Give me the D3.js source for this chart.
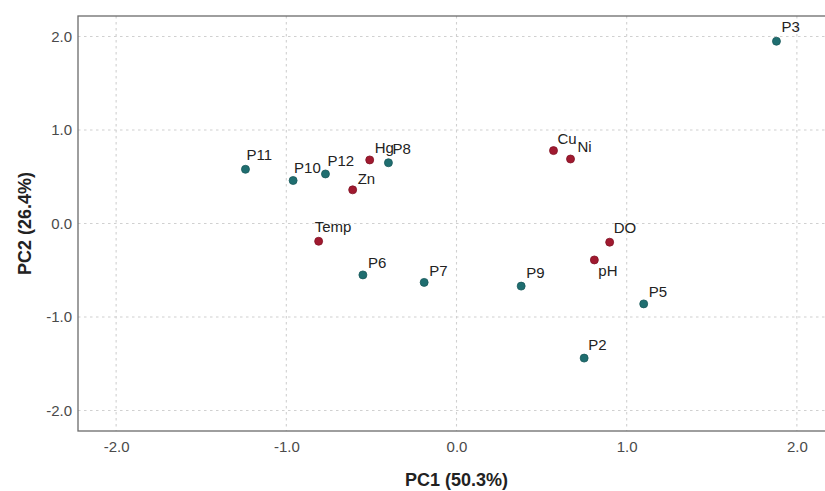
<!DOCTYPE html>
<html>
<head>
<meta charset="utf-8">
<script src="https://cdn.jsdelivr.net/npm/d3@7"></script>
<style>
  body { margin: 0; background: #fff; }
  svg { display: block; font-family: "Liberation Sans", Arial, sans-serif; }
</style>
</head>
<body>
<svg id="pca" width="825" height="491"></svg>
<script>
// PCA biplot scores: sampling points (P) and water quality variables
const labels = ['P2', 'P3', 'P5', 'P6', 'P7', 'P8', 'P9', 'P10', 'P11', 'P12',
                'Hg', 'Zn', 'Temp', 'Cu', 'Ni', 'DO', 'pH'];
const groups = ['site', 'site', 'site', 'site', 'site', 'site', 'site', 'site', 'site', 'site',
                'var', 'var', 'var', 'var', 'var', 'var', 'var'];
const pc1 = [0.75, 1.88, 1.10, -0.55, -0.19, -0.40, 0.38, -0.96, -1.24, -0.77,
             -0.51, -0.61, -0.81, 0.57, 0.67, 0.90, 0.81];
const pc2 = [-1.44, 1.95, -0.86, -0.55, -0.63, 0.65, -0.67, 0.46, 0.58, 0.53,
             0.68, 0.36, -0.19, 0.78, 0.69, -0.20, -0.39];
const xTicks = [-2, -1, 0, 1, 2];
const yTicks = [-2, -1, 0, 1, 2];
const xTitle = 'PC1 (50.3%)';
const yTitle = 'PC2 (26.4%)';

// label nudges in px (repel-style placement)
const nudge = {
  P2: [4, -8], P3: [5, -9], P5: [5, -7], P6: [5, -7], P7: [5, -6], P8: [4, -9],
  P9: [5, -8], P10: [1, -8], P11: [1, -9], P12: [2, -8], Hg: [5, -7], Zn: [5, -6],
  Temp: [-4, -9], Cu: [4, -7], Ni: [7, -7], DO: [4, -9], pH: [4, 16]
};

const data = labels.map((d, i) => ({ label: d, group: groups[i], x: pc1[i], y: pc2[i] }));

const pLeft = 78, pTop = 16, pBottom = 431, pRight = 835;

const x = d3.scaleLinear().domain([-2.224, 2.224]).range([pLeft, pRight]);
const y = d3.scaleLinear().domain([-2.22, 2.22]).range([pBottom, pTop]);

const color = d3.scaleOrdinal()
  .domain(['site', 'var'])
  .range(['#1f6e70', '#a0192f']);

const svg = d3.select('#pca');

// grid
const grid = svg.append('g')
  .attr('stroke', '#d0d0d0')
  .attr('stroke-width', 1.1)
  .attr('stroke-dasharray', '2.5,3.5');

grid.selectAll('line.v')
  .data(xTicks)
  .enter().append('line')
    .attr('class', 'v')
    .attr('x1', (d) => x(d)).attr('x2', (d) => x(d))
    .attr('y1', pTop).attr('y2', pBottom);

grid.selectAll('line.h')
  .data(yTicks)
  .enter().append('line')
    .attr('class', 'h')
    .attr('y1', (d) => y(d)).attr('y2', (d) => y(d))
    .attr('x1', pLeft).attr('x2', pRight);

// panel border
svg.append('rect')
  .attr('x', pLeft).attr('y', pTop)
  .attr('width', pRight - pLeft).attr('height', pBottom - pTop)
  .attr('fill', 'none')
  .attr('stroke', '#6b6b6b')
  .attr('stroke-width', 1.3);

const fmt = (d) => d.toFixed(1);

const bottomAxis = d3.axisBottom(x)
  .tickValues(xTicks)
  .tickFormat(fmt)
  .tickSize(0)
  .tickPadding(10);

const leftAxis = d3.axisLeft(y)
  .tickValues(yTicks)
  .tickFormat(fmt)
  .tickSize(0)
  .tickPadding(6);

const gx = svg.append('g')
  .attr('transform', `translate(0, ${pBottom})`)
  .call(bottomAxis);

const gy = svg.append('g')
  .attr('transform', `translate(${pLeft}, 0)`)
  .call(leftAxis);

[gx, gy].forEach((g) => {
  g.select('.domain').remove();
  g.selectAll('text')
    .attr('fill', '#4a4a4a')
    .style('font-size', '15px')
    .style('font-family', '"Liberation Sans", Arial, sans-serif');
});

// axis titles
svg.append('text')
  .attr('x', x(0))
  .attr('y', 486)
  .attr('text-anchor', 'middle')
  .style('font-size', '18px')
  .style('font-weight', 'bold')
  .attr('fill', '#222')
  .text(xTitle);

svg.append('text')
  .attr('transform', `translate(31, ${(pTop + pBottom) / 2}) rotate(-90)`)
  .attr('text-anchor', 'middle')
  .style('font-size', '18px')
  .style('font-weight', 'bold')
  .attr('fill', '#222')
  .text(yTitle);

// points
svg.append('g')
  .selectAll('circle')
  .data(data)
  .enter().append('circle')
    .attr('cx', (d) => x(d.x))
    .attr('cy', (d) => y(d.y))
    .attr('r', 4)
    .attr('fill', (d) => color(d.group))
    .attr('stroke', (d) => d3.color(color(d.group)).darker(0.6))
    .attr('stroke-width', 0.8);

// labels
svg.append('g')
  .selectAll('text')
  .data(data)
  .enter().append('text')
    .attr('x', (d) => x(d.x) + nudge[d.label][0])
    .attr('y', (d) => y(d.y) + nudge[d.label][1])
    .style('font-size', '15px')
    .attr('fill', '#222')
    .text((d) => d.label);
</script>
</body>
</html>
